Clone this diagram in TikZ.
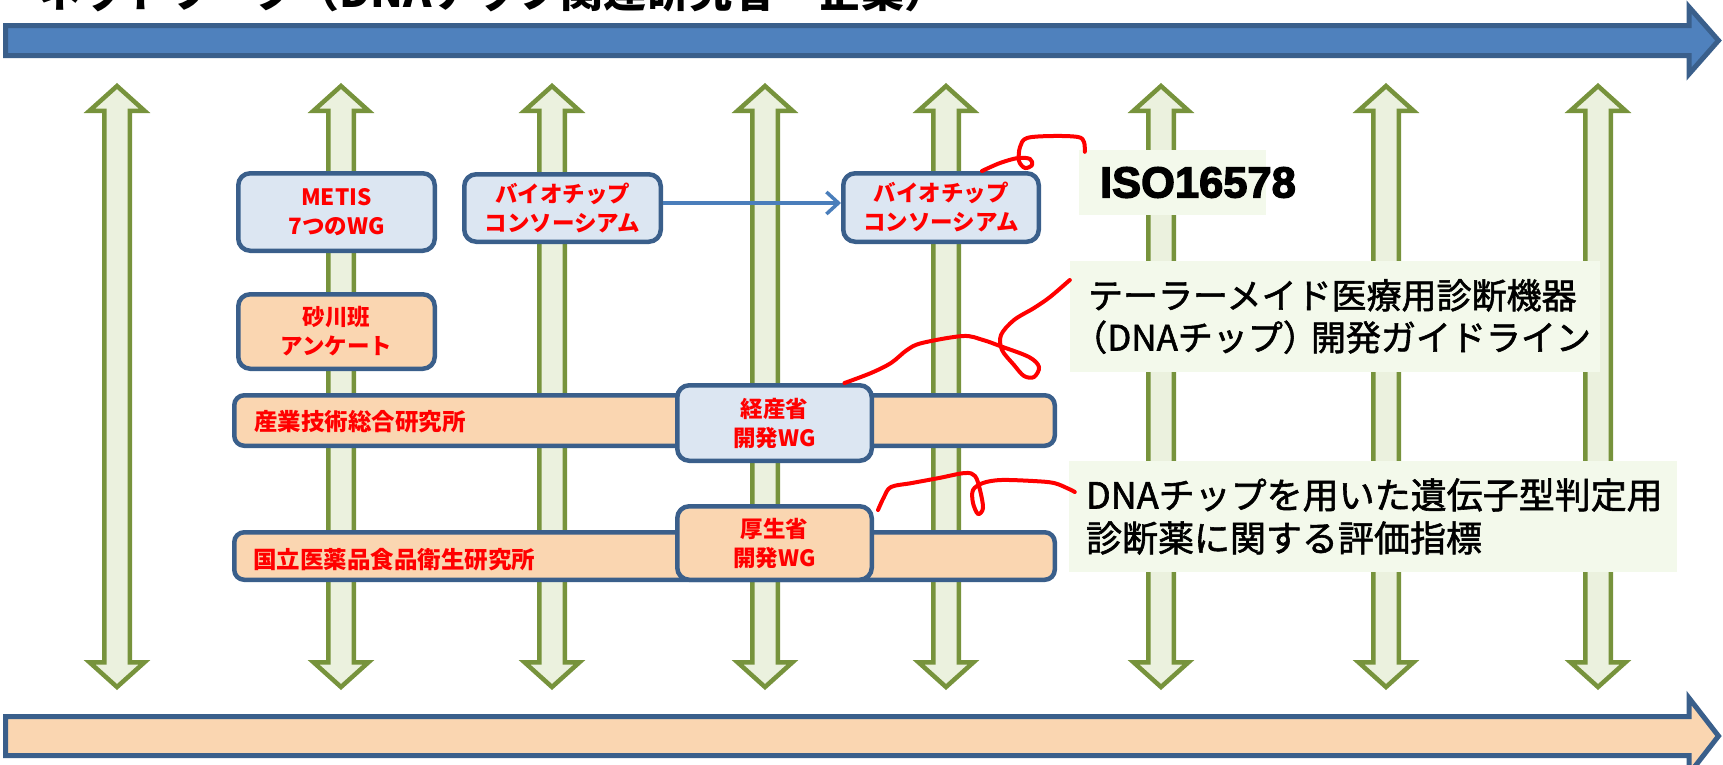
\documentclass[tikz,border=0pt]{standalone}
\usepackage{fontspec}
\newfontfamily\jp{Noto Sans CJK JP}
\newfontfamily\jpm[FakeBold=1.6]{Noto Sans CJK JP}
\newfontfamily\isofont[FakeBold=3]{Liberation Sans}
\usetikzlibrary{arrows.meta}
\definecolor{bluefill}{HTML}{4F81BD}
\definecolor{darkblue}{HTML}{3A5F8B}
\definecolor{peach}{HTML}{FAD6B1}
\definecolor{lightblue}{HTML}{DCE6F2}
\definecolor{greenedge}{HTML}{77933C}
\definecolor{greenfill}{HTML}{EBF1DE}
\definecolor{labelfill}{HTML}{F3F9EB}
\definecolor{arrowblue}{HTML}{4A7EBB}
\tikzset{
  bigarrow/.style={draw=darkblue, line width=5pt, line join=miter},
  dblarrow/.style={draw=greenedge, fill=greenfill, line width=4.5pt, line join=miter},
  bluebox/.style={draw=darkblue, fill=lightblue, line width=4.5pt, rounded corners=12pt, inner sep=0pt, align=center, text=red, font=\jp\bfseries\fontsize{22.5}{29}\selectfont},
  peachbox/.style={bluebox, fill=peach},
  bartext/.style={text=red, font=\jp\bfseries\fontsize{23.5}{28}\selectfont, anchor=west, inner sep=0pt},
  labelbox/.style={fill=labelfill, inner ysep=0pt, align=left, font=\jpm\fontsize{35}{42}\selectfont},
  redline/.style={draw=red, line width=4pt, line cap=round, line join=round},
  link/.style={draw=arrowblue, line width=3.5pt, -{Straight Barb[length=12pt,width=22pt,line width=3.5pt]}}
}
\begin{document}
\begin{tikzpicture}[x=1pt,y=-1pt]
\useasboundingbox (0,0) rectangle (1723,764);
% big horizontal arrows
\draw[bigarrow, fill=bluefill] (5.5,25.5) -- (1689,25.5) -- (1689,7) -- (1718.5,40.5) -- (1689,74) -- (1689,55.5) -- (5.5,55.5) -- cycle;
\draw[bigarrow, fill=peach] (5.5,716.5) -- (1689,716.5) -- (1689,698) -- (1718.5,736) -- (1689,774) -- (1689,755.5) -- (5.5,755.5) -- cycle;
% vertical double arrows
\foreach \cx in {117,341,552,765,946,1161,1386,1598}{
  \draw[dblarrow] (\cx,86) -- (\cx+27.5,110.75) -- (\cx+12.75,110.75) -- (\cx+12.75,662.25) -- (\cx+27.5,662.25) -- (\cx,687) -- (\cx-27.5,662.25) -- (\cx-12.75,662.25) -- (\cx-12.75,110.75) -- (\cx-27.5,110.75) -- cycle;
}
% title (cut off at the top)
\node[anchor=base west, inner sep=0pt, font=\jp\bfseries\fontsize{43}{43}\selectfont] (title) at (38,7) {ネットワーク（DNAチップ関連研究者・企業）};
% boxes
\node[bluebox, minimum width=196.5pt, minimum height=77.5pt] (metis) at (336.5,212) {METIS\\7つのWG};
\node[bluebox, minimum width=196.5pt, minimum height=67.5pt] (bc1) at (562.5,208) {バイオチップ\\コンソーシアム};
\node[bluebox, minimum width=195.5pt, minimum height=68.5pt] (bc2) at (941,207.5) {バイオチップ\\コンソーシアム};
\node[peachbox, minimum width=196.5pt, minimum height=74.5pt] (suna) at (336.5,331.5) {砂川班\\アンケート};
\node[peachbox, minimum width=820.5pt, minimum height=50.5pt, rounded corners=10pt] (aist) at (644.5,420.5) {};
\node[bartext] (aisttxt) at ([xshift=22pt,yshift=-1.5pt]aist.west) {産業技術総合研究所};
\node[bluebox, minimum width=194.5pt, minimum height=75.5pt] (meti) at (774.5,423) {経産省\\開発WG};
\node[peachbox, minimum width=820.5pt, minimum height=47.5pt, rounded corners=10pt] (nihs) at (644.5,556) {};
\node[bartext] (nihstxt) at ([xshift=21pt,yshift=-4pt]nihs.west) {国立医薬品食品衛生研究所};
\node[peachbox, minimum width=194.5pt, minimum height=73.5pt] (mhlw) at (774.5,543) {厚生省\\開発WG};
% link
\draw[link] ([yshift=5pt]bc1.east) -- ([yshift=4.5pt]bc2.west);
% labels
\node[labelbox, minimum width=530pt, minimum height=111pt, text width=494pt, inner xsep=18pt] (tm) at (1335,316.5) {テーラーメイド医療用診断機器\\\hspace*{-0.45em}（DNAチップ）\kern-0.2em 開発ガイドライン};
\node[labelbox, minimum width=608pt, minimum height=111pt, text width=574pt, inner xsep=17pt, font=\jpm\fontsize{36}{43}\selectfont] (dna) at (1373,516.5) {DNAチップを用いた遺伝子型判定用\\診断薬に関する評価指標};
\node[labelbox, minimum width=187pt, minimum height=65pt, inner xsep=21pt, font=\isofont\bfseries\fontsize{43.5}{43.5}\selectfont] (iso) at (1172.5,182.5) {\makebox[145pt][l]{ISO16578}};
% red hand-drawn connectors
\draw[redline] plot[smooth, tension=0.55] coordinates {([xshift=41pt]bc2.north) (1000,163) (1018,158) (1030,159) (1032,165) (1025,168) (1019,161) (1020,147) (1027,138) (1053,136) (1078,137) (1084,142) ([xshift=6pt,yshift=-2pt]iso.north west)};
\draw[redline] plot[smooth, tension=0.55] coordinates {([xshift=70pt]meti.north) (871,373) (891,363) (907,350) (922,343) (963,336) (983,340) (1000,346) (1029,357) (1039,367) (1034,377) (1024,376) (1014,365) (1002,350) (1001,335) (1014,320) (1034,308) (1050,297) ([yshift=36.5pt]tm.west)};
\draw[redline] plot[smooth, tension=0.55] coordinates {([xshift=4pt,yshift=-6pt]mhlw.north east) (884,497) (891,487) (912,483) (939,478) (965,473) (975,476) (980,490) (983,508) (978,514) (973,503) (973,490) (983,483) (1001,480) (1033,481) (1054,483) (1069,489) ([xshift=6pt,yshift=24.5pt]dna.west)};
\end{tikzpicture}
\end{document}
